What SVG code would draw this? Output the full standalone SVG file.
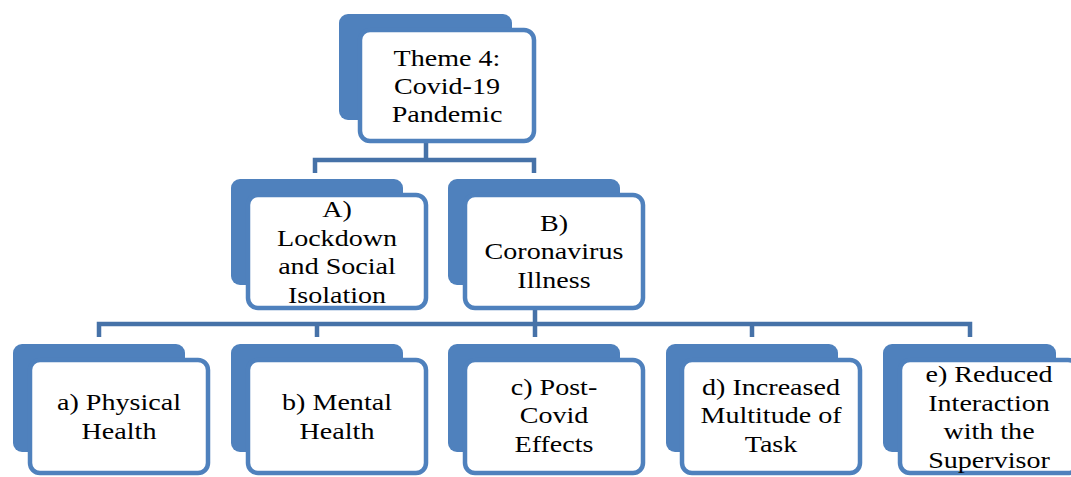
<svg xmlns="http://www.w3.org/2000/svg" width="1071" height="477" viewBox="0 0 1071 477">
<style>
.back{fill:#4F81BD}
.front{fill:#FFFFFF;stroke:#4F81BD;stroke-width:4.5}
.conn{fill:none;stroke:#4672A8;stroke-width:4.5;stroke-linejoin:miter}
.t{font-family:"Liberation Serif","Times New Roman",serif;font-size:24px;fill:#000;text-anchor:middle}
</style>
<rect width="1071" height="477" fill="#FFFFFF"/>
<g id="connectors">
<path class="conn" d="M426,143 V160 M315,173 V160 H534 V173"/>
<path class="conn" d="M535,310 V337 M99,337 V324 H970 V337 M317,324 V337 M752,324 V337"/>
</g>
<g id="node-theme4">
<rect class="back" x="339" y="14" width="173" height="106" rx="9"/>
<rect class="front" x="360" y="30" width="174" height="111" rx="10"/>
<text class="t" transform="matrix(1.17 0 0 1 447 0)"><tspan x="0" y="66">Theme 4:</tspan><tspan x="0" y="94">Covid-19</tspan><tspan x="0" y="122">Pandemic</tspan></text>
</g>
<g id="node-A">
<rect class="back" x="231" y="179" width="172" height="106" rx="9"/>
<rect class="front" x="248" y="195" width="178" height="113" rx="10"/>
<text class="t" transform="matrix(1.17 0 0 1 337 0)"><tspan x="0" y="217">A)</tspan><tspan x="0" y="246">Lockdown</tspan><tspan x="0" y="274.5">and Social</tspan><tspan x="0" y="303">Isolation</tspan></text>
</g>
<g id="node-B">
<rect class="back" x="448" y="179" width="172" height="106" rx="9"/>
<rect class="front" x="465" y="195" width="178" height="113" rx="10"/>
<text class="t" transform="matrix(1.17 0 0 1 554 0)"><tspan x="0" y="231">B)</tspan><tspan x="0" y="259.5">Coronavirus</tspan><tspan x="0" y="288">Illness</tspan></text>
</g>
<g id="node-a">
<rect class="back" x="13" y="344" width="172" height="108" rx="9"/>
<rect class="front" x="30" y="360" width="178" height="113" rx="10"/>
<text class="t" transform="matrix(1.17 0 0 1 119 0)"><tspan x="0" y="410">a) Physical</tspan><tspan x="0" y="439">Health</tspan></text>
</g>
<g id="node-b">
<rect class="back" x="231" y="344" width="172" height="108" rx="9"/>
<rect class="front" x="248" y="360" width="178" height="113" rx="10"/>
<text class="t" transform="matrix(1.17 0 0 1 337 0)"><tspan x="0" y="410">b) Mental</tspan><tspan x="0" y="439">Health</tspan></text>
</g>
<g id="node-c">
<rect class="back" x="448" y="344" width="172" height="108" rx="9"/>
<rect class="front" x="465" y="360" width="178" height="113" rx="10"/>
<text class="t" transform="matrix(1.17 0 0 1 554 0)"><tspan x="0" y="395">c) Post-</tspan><tspan x="0" y="423.5">Covid</tspan><tspan x="0" y="452">Effects</tspan></text>
</g>
<g id="node-d">
<rect class="back" x="666" y="344" width="172" height="108" rx="9"/>
<rect class="front" x="682" y="360" width="178" height="113" rx="10"/>
<text class="t" transform="matrix(1.17 0 0 1 771 0)"><tspan x="0" y="395">d) Increased</tspan><tspan x="0" y="423.5">Multitude of</tspan><tspan x="0" y="452">Task</tspan></text>
</g>
<g id="node-e">
<rect class="back" x="883" y="344" width="173" height="108" rx="9"/>
<rect class="front" x="900" y="360" width="178" height="113" rx="10"/>
<text class="t" transform="matrix(1.17 0 0 1 989 0)"><tspan x="0" y="382">e) Reduced</tspan><tspan x="0" y="411">Interaction</tspan><tspan x="0" y="439.5">with the</tspan><tspan x="0" y="468">Supervisor</tspan></text>
</g>
</svg>
